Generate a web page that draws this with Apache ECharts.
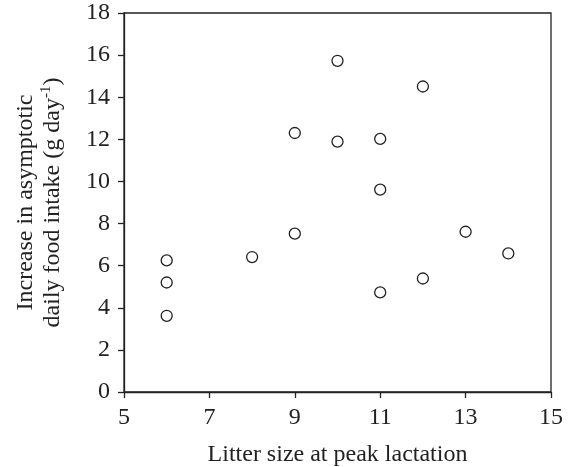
<!DOCTYPE html>
<html>
<head>
<meta charset="utf-8">
<script src="https://cdn.jsdelivr.net/npm/echarts@6/dist/echarts.min.js"></script>
<style>html,body{margin:0;padding:0;background:#fff;}#c{width:569px;height:467px;}</style>
</head>
<body>
<div id="c"></div>
<script>
// Litter size at peak lactation
const litterSize = [6, 6, 6, 8, 9, 9, 10, 10, 11, 11, 11, 12, 12, 13, 14];
// Increase in asymptotic daily food intake (g/day)
const foodIntake = [6.25, 5.2, 3.62, 6.41, 7.52, 12.3, 15.73, 11.89, 12.02, 9.61, 4.73, 14.51, 5.39, 7.61, 6.58];
const xAxisRange = [5, 15, 2];
const yAxisRange = [0, 18, 2];
const xTitle = 'Litter size at peak lactation';
const yTitleLines = ['Increase in asymptotic', 'daily food intake (g day'];

const points = litterSize.map((x, i) => [x, foodIntake[i]]);
const FONT = '"Liberation Serif", "Times New Roman", serif';
const ink = '#222';
const FS = 24;

const chart = echarts.init(document.getElementById('c'), null, {renderer: 'canvas'});
chart.setOption({
  animation: false,
  backgroundColor: '#fff',
  grid: {left: 124, right: 18, top: 13, bottom: 75, outerBoundsMode: 'none', containLabel: false, show: true, borderColor: ink, borderWidth: 1.3, backgroundColor: 'transparent'},
  xAxis: {
    type: 'value', min: xAxisRange[0], max: xAxisRange[1], interval: xAxisRange[2],
    name: xTitle, nameLocation: 'middle', nameGap: 51,
    nameTextStyle: {fontFamily: FONT, fontSize: FS, color: ink},
    axisLine: {show: true, lineStyle: {color: ink, width: 1.3}},
    axisTick: {show: true, inside: false, length: 6, lineStyle: {color: ink, width: 1.3}},
    axisLabel: {fontFamily: FONT, fontSize: FS, color: ink, margin: 14},
    splitLine: {show: false}
  },
  yAxis: {
    type: 'value', min: yAxisRange[0], max: yAxisRange[1], interval: yAxisRange[2],
    name: '{a|' + yTitleLines[0] + '}\n{a|' + yTitleLines[1] + '}{sup|-1}{a|)}',
    nameLocation: 'middle', nameRotate: 90, nameGap: 58,
    nameTextStyle: {
      fontFamily: FONT, fontSize: FS, color: ink, align: 'center',
      rich: {
        a: {fontFamily: FONT, fontSize: FS, color: ink, lineHeight: 27},
        sup: {fontFamily: FONT, fontSize: 15, color: ink, lineHeight: 15, verticalAlign: 'top'}
      }
    },
    axisLine: {show: true, lineStyle: {color: ink, width: 1.3}},
    axisTick: {show: true, inside: false, length: 6, lineStyle: {color: ink, width: 1.3}},
    axisLabel: {fontFamily: FONT, fontSize: FS, color: ink, margin: 14},
    splitLine: {show: false}
  },
  series: [{
    type: 'scatter',
    data: points,
    symbol: 'circle',
    symbolSize: 11,
    itemStyle: {color: '#fff', borderColor: ink, borderWidth: 1.3, opacity: 1}
  }]
});
</script>
</body>
</html>
